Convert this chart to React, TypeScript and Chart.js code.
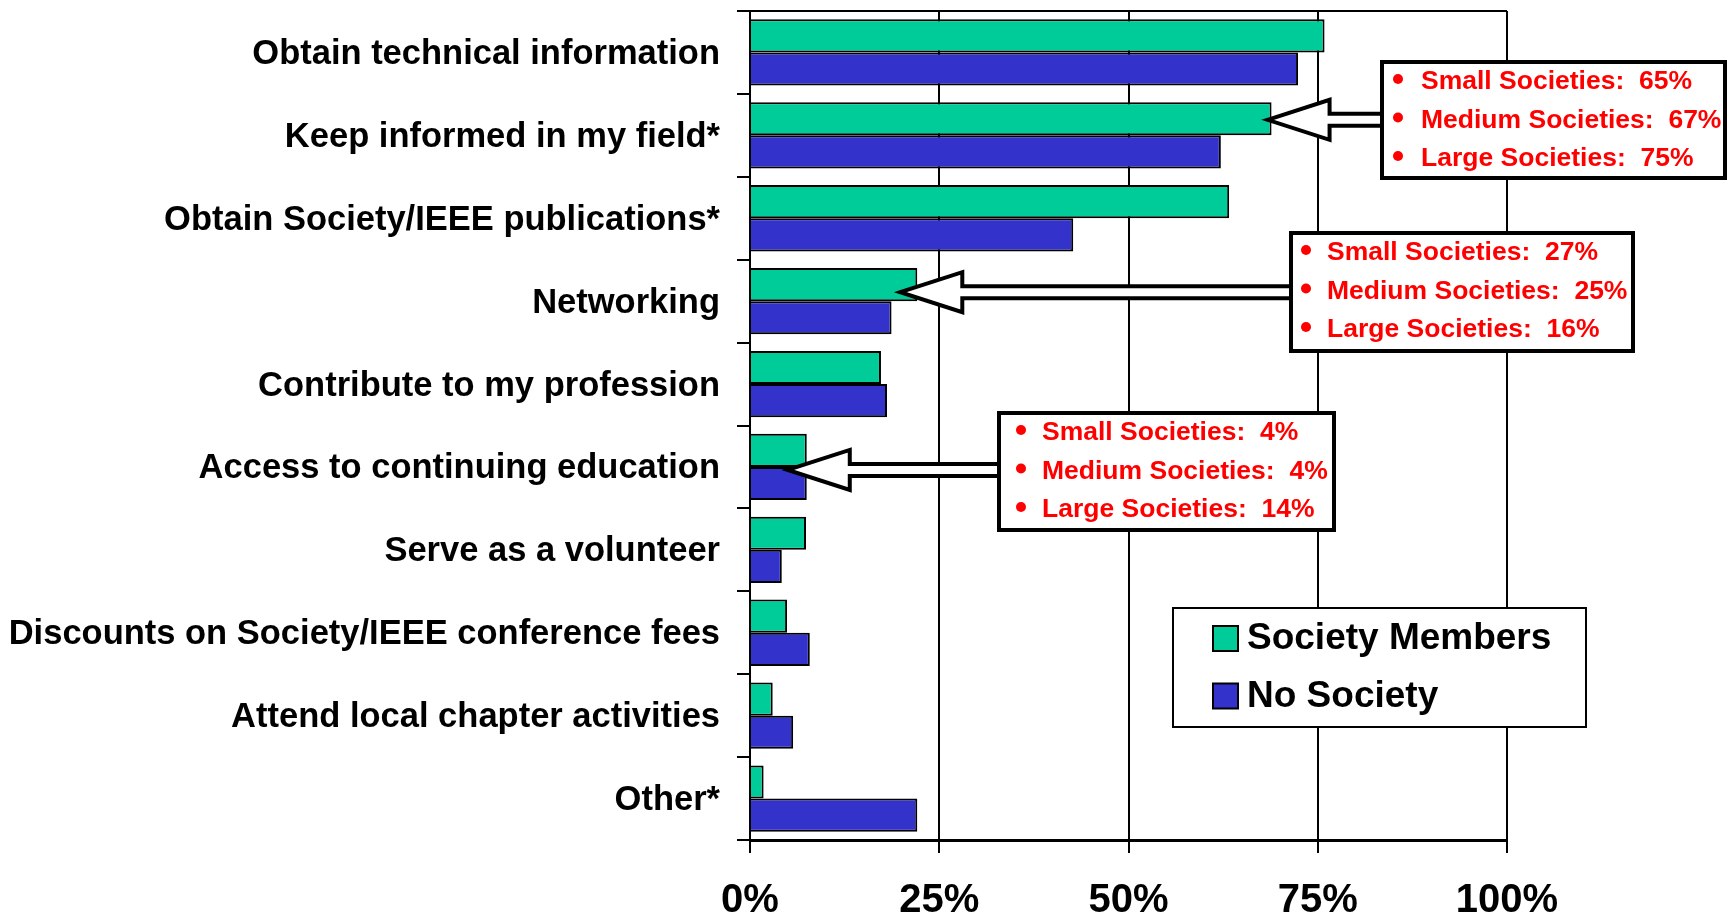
import React, { useEffect, useRef } from 'react';
import { Chart, registerables } from 'chart.js';

Chart.register(...registerables);

const categories = [
  'Obtain technical information',
  'Keep informed in my field*',
  'Obtain Society/IEEE publications*',
  'Networking',
  'Contribute to my profession',
  'Access to continuing education',
  'Serve as a volunteer',
  'Discounts on Society/IEEE conference fees',
  'Attend local chapter activities',
  'Other*',
];

const seriesNames = ['Society Members', 'No Society'];
const societyMembers = [75.9, 68.9, 63.3, 22.1, 17.3, 7.5, 7.4, 4.9, 3.0, 1.8];
const noSociety = [72.4, 62.2, 42.7, 18.7, 18.1, 7.5, 4.2, 7.9, 5.7, 22.1];

const xTickValues = [0, 25, 50, 75, 100];

const sizeLabels = ['Small Societies', 'Medium Societies', 'Large Societies'];
const keepInformedBySize = [65, 67, 75];
const networkingBySize = [27, 25, 16];
const continuingEdBySize = [4, 4, 14];

const GREEN = '#00CC99';
const BLUE = '#3333CC';
const FONT = '"Liberation Sans", Arial, Helvetica, sans-serif';

export default function App() {
  const canvasRef = useRef<HTMLCanvasElement | null>(null);

  useEffect(() => {
    if (!canvasRef.current) return;

    const callouts = [
      { category: 1, values: keepInformedBySize, tipDx: -4, tipDy: -15.5, box: { x: 1382, y: 62, w: 343, h: 116 }, bulletDx: 16, textDx: 39 },
      { category: 3, values: networkingBySize, tipDx: -17, tipDy: -9, box: { x: 1291, y: 233, w: 342, h: 118 }, bulletDx: 15, textDx: 36 },
      { category: 5, values: continuingEdBySize, tipDx: -19, tipDy: 3, box: { x: 999, y: 413, w: 335, h: 117 }, bulletDx: 22, textDx: 43 },
    ];
    const calloutSource = [societyMembers, societyMembers, societyMembers];

    const overlay = {
      id: 'overlay',
      afterDraw(chart: any) {
        const ctx = chart.ctx as CanvasRenderingContext2D;
        const area = chart.chartArea;
        const xs = chart.scales.x;
        const ys = chart.scales.y;
        ctx.save();

        // top border of plot
        ctx.strokeStyle = '#000';
        ctx.lineWidth = 2;
        ctx.beginPath();
        ctx.moveTo(area.left - 13, area.top);
        ctx.lineTo(area.right, area.top);
        ctx.stroke();

        // callouts
        callouts.forEach((c, i) => {
          const val = calloutSource[i][c.category];
          const tx = xs.getPixelForValue(val) + c.tipDx;
          const ty = ys.getPixelForValue(c.category) + c.tipDy;
          const L = 62, H = 20, S = 6;
          const bx = c.box.x;
          ctx.beginPath();
          ctx.moveTo(tx, ty);
          ctx.lineTo(tx + L, ty - H);
          ctx.lineTo(tx + L, ty - S);
          ctx.lineTo(bx, ty - S);
          ctx.lineTo(bx, ty + S);
          ctx.lineTo(tx + L, ty + S);
          ctx.lineTo(tx + L, ty + H);
          ctx.closePath();
          ctx.fillStyle = '#fff';
          ctx.fill();
          ctx.lineWidth = 4;
          ctx.lineJoin = 'miter';
          ctx.strokeStyle = '#000';
          ctx.stroke();

          ctx.fillStyle = '#fff';
          ctx.fillRect(c.box.x, c.box.y, c.box.w, c.box.h);
          ctx.lineWidth = 4;
          ctx.strokeRect(c.box.x, c.box.y, c.box.w, c.box.h);

          ctx.font = `bold 26.5px ${FONT}`;
          ctx.textBaseline = 'middle';
          ctx.textAlign = 'left';
          sizeLabels.forEach((lab, j) => {
            const ly = c.box.y + 20 + j * 38.5;
            ctx.fillStyle = '#FF0000';
            ctx.beginPath();
            ctx.arc(c.box.x + c.bulletDx, ly - 3, 5, 0, Math.PI * 2);
            ctx.fill();
            ctx.fillText(`${lab}:  ${c.values[j]}%`, c.box.x + c.textDx, ly);
          });
        });

        // legend
        const lg = { x: 1173, y: 608, w: 413, h: 119 };
        ctx.fillStyle = '#fff';
        ctx.fillRect(lg.x, lg.y, lg.w, lg.h);
        ctx.lineWidth = 2;
        ctx.strokeStyle = '#000';
        ctx.strokeRect(lg.x, lg.y, lg.w, lg.h);
        const colors = [GREEN, BLUE];
        ctx.font = `bold 37px ${FONT}`;
        ctx.textBaseline = 'middle';
        ctx.textAlign = 'left';
        seriesNames.forEach((name, j) => {
          const sy = lg.y + 18 + j * 57.5;
          ctx.fillStyle = colors[j];
          ctx.fillRect(lg.x + 40, sy, 25, 25);
          ctx.lineWidth = 2;
          ctx.strokeStyle = '#000';
          ctx.strokeRect(lg.x + 40, sy, 25, 25);
          ctx.fillStyle = '#000';
          ctx.fillText(name, lg.x + 74, sy + 13);
        });

        ctx.restore();
      },
    };

    const chart = new Chart(canvasRef.current, {
      type: 'bar',
      data: {
        labels: categories,
        datasets: [
          {
            label: seriesNames[0],
            data: societyMembers,
            backgroundColor: GREEN,
            borderColor: '#000',
            borderWidth: 2,
            categoryPercentage: 0.8,
            barPercentage: 1.0,
          },
          {
            label: seriesNames[1],
            data: noSociety,
            backgroundColor: BLUE,
            borderColor: '#000',
            borderWidth: 2,
            categoryPercentage: 0.8,
            barPercentage: 1.0,
          },
        ],
      },
      options: {
        indexAxis: 'y',
        responsive: true,
        maintainAspectRatio: false,
        animation: false,
        layout: { padding: { left: 0, right: 229, top: 11, bottom: 0 } },
        plugins: {
          legend: { display: false },
          tooltip: { enabled: false },
        },
        scales: {
          x: {
            min: 0,
            max: 100,
            afterBuildTicks: (scale: any) => {
              scale.ticks = xTickValues.map((v) => ({ value: v }));
            },
            afterFit: (scale: any) => {
              scale.height = 75;
              scale.paddingLeft = 0;
              scale.paddingRight = 0;
            },
            ticks: {
              callback: (v: any) => `${v}%`,
              color: '#000',
              padding: 24,
              font: { family: FONT, size: 40, weight: 'bold' },
            },
            grid: {
              color: '#000',
              lineWidth: 2,
              tickLength: 13,
              drawTicks: true,
            },
            border: { color: '#000', width: 3 },
          },
          y: {
            afterFit: (scale: any) => {
              scale.width = 750;
              scale.paddingTop = 0;
              scale.paddingBottom = 0;
            },
            ticks: {
              color: '#000',
              padding: 17,
              labelOffset: 2,
              font: { family: FONT, size: 34.5, weight: 'bold' },
            },
            grid: {
              drawOnChartArea: false,
              drawTicks: true,
              tickLength: 13,
              color: '#000',
              tickColor: '#000',
              lineWidth: 2,
              offset: true,
            },
            border: { color: '#000', width: 2 },
          },
        },
      },
      plugins: [overlay],
    } as any);

    return () => chart.destroy();
  }, []);

  return (
    <div style={{ position: 'absolute', left: 0, top: 0, width: 1736, height: 915, background: '#fff' }}>
      <canvas ref={canvasRef} />
    </div>
  );
}
